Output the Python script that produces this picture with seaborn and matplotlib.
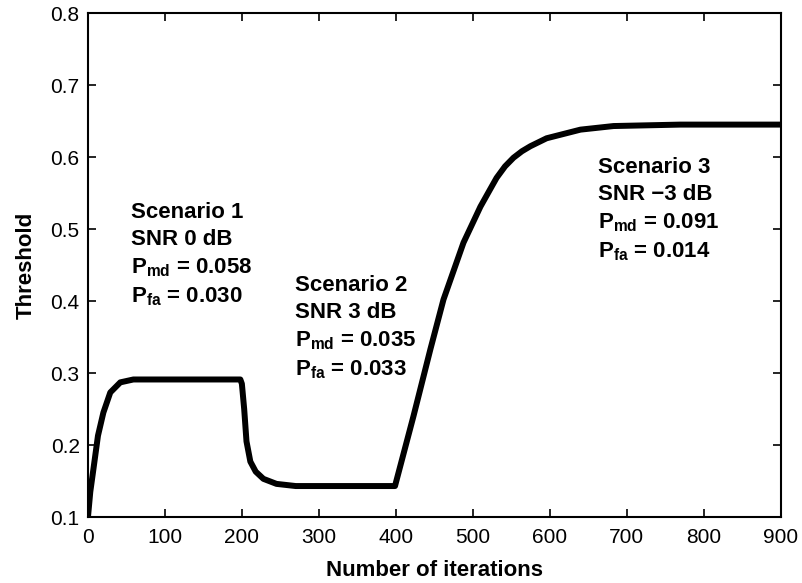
# Threshold adaptation over iterations for three SNR scenarios

import pandas as pd
import seaborn as sns
import matplotlib.pyplot as plt


# -----------------------------------------------------------------------------
# Data
# -----------------------------------------------------------------------------

iterations = [0, 3, 7, 13, 20, 29, 42, 59, 100, 150, 198,
              200, 203, 206, 211, 218, 228, 245, 270, 300, 350, 399,
              423, 445, 462, 488, 510, 521, 531, 542, 553, 564, 575, 596,
              640, 683, 770, 900]
threshold = [0.100, 0.135, 0.166, 0.213, 0.245, 0.273, 0.287, 0.291, 0.291, 0.291, 0.291,
             0.285, 0.250, 0.205, 0.177, 0.163, 0.153, 0.146, 0.143, 0.143, 0.143, 0.143,
             0.240, 0.333, 0.402, 0.481, 0.531, 0.552, 0.571, 0.587, 0.599, 0.608, 0.615,
             0.626, 0.638, 0.643, 0.645, 0.645]

x_ticks = [0, 100, 200, 300, 400, 500, 600, 700, 800, 900]
y_ticks = [0.1, 0.2, 0.3, 0.4, 0.5, 0.6, 0.7, 0.8]

scenario_labels = [
    "Scenario 1\nSNR 0 dB\n$\\mathbf{P_{md}}$ = 0.058\n$\\mathbf{P_{fa}}$ = 0.030",
    "Scenario 2\nSNR 3 dB\n$\\mathbf{P_{md}}$ = 0.035\n$\\mathbf{P_{fa}}$ = 0.033",
    "Scenario 3\nSNR \u22123 dB\n$\\mathbf{P_{md}}$ = 0.091\n$\\mathbf{P_{fa}}$ = 0.014",
]
# top-left anchor of each annotation, in data units
scenario_x = [56, 269, 663]
scenario_y = [0.538, 0.436, 0.600]

df = pd.DataFrame({"iterations": iterations, "threshold": threshold})


# -----------------------------------------------------------------------------
# Plot
# -----------------------------------------------------------------------------

sns.set_theme(style="ticks")
plt.rcParams["font.family"] = ["Liberation Sans", "DejaVu Sans"]
plt.rcParams["mathtext.fontset"] = "custom"
plt.rcParams["mathtext.rm"] = "Liberation Sans"
plt.rcParams["mathtext.bf"] = "Liberation Sans:bold"
plt.rcParams["text.color"] = "black"
plt.rcParams["axes.labelcolor"] = "black"

fig = plt.figure(figsize=(8.02, 5.83), dpi=100)
ax = fig.add_axes([0.1097, 0.1132, 0.8635, 0.8645])

sns.lineplot(data=df, x="iterations", y="threshold", ax=ax,
             color="black", linewidth=4.3, estimator=None,
             solid_joinstyle="round", solid_capstyle="butt")

ax.set_xlim(0, 900)
ax.set_ylim(0.1, 0.8)
ax.set_xticks(x_ticks)
ax.set_yticks(y_ticks)
ax.set_yticklabels([f"{v:.1f}" for v in y_ticks])

ax.tick_params(direction="in", top=True, right=True, length=6, width=1.2,
               labelsize=15, colors="black")
ax.tick_params(axis="x", pad=8)
ax.tick_params(axis="y", pad=6)
for spine in ax.spines.values():
    spine.set_visible(True)
    spine.set_linewidth(1.5)
    spine.set_color("black")

ax.set_xlabel("Number of iterations", fontsize=16, fontweight="bold", labelpad=9)
ax.set_ylabel("Threshold", fontsize=16, fontweight="bold", labelpad=10)

for label, tx, ty in zip(scenario_labels, scenario_x, scenario_y):
    ax.text(tx, ty, label, fontsize=16, fontweight="bold", ha="left", va="top",
            linespacing=1.38)

fig.savefig("out.png", dpi=100)
